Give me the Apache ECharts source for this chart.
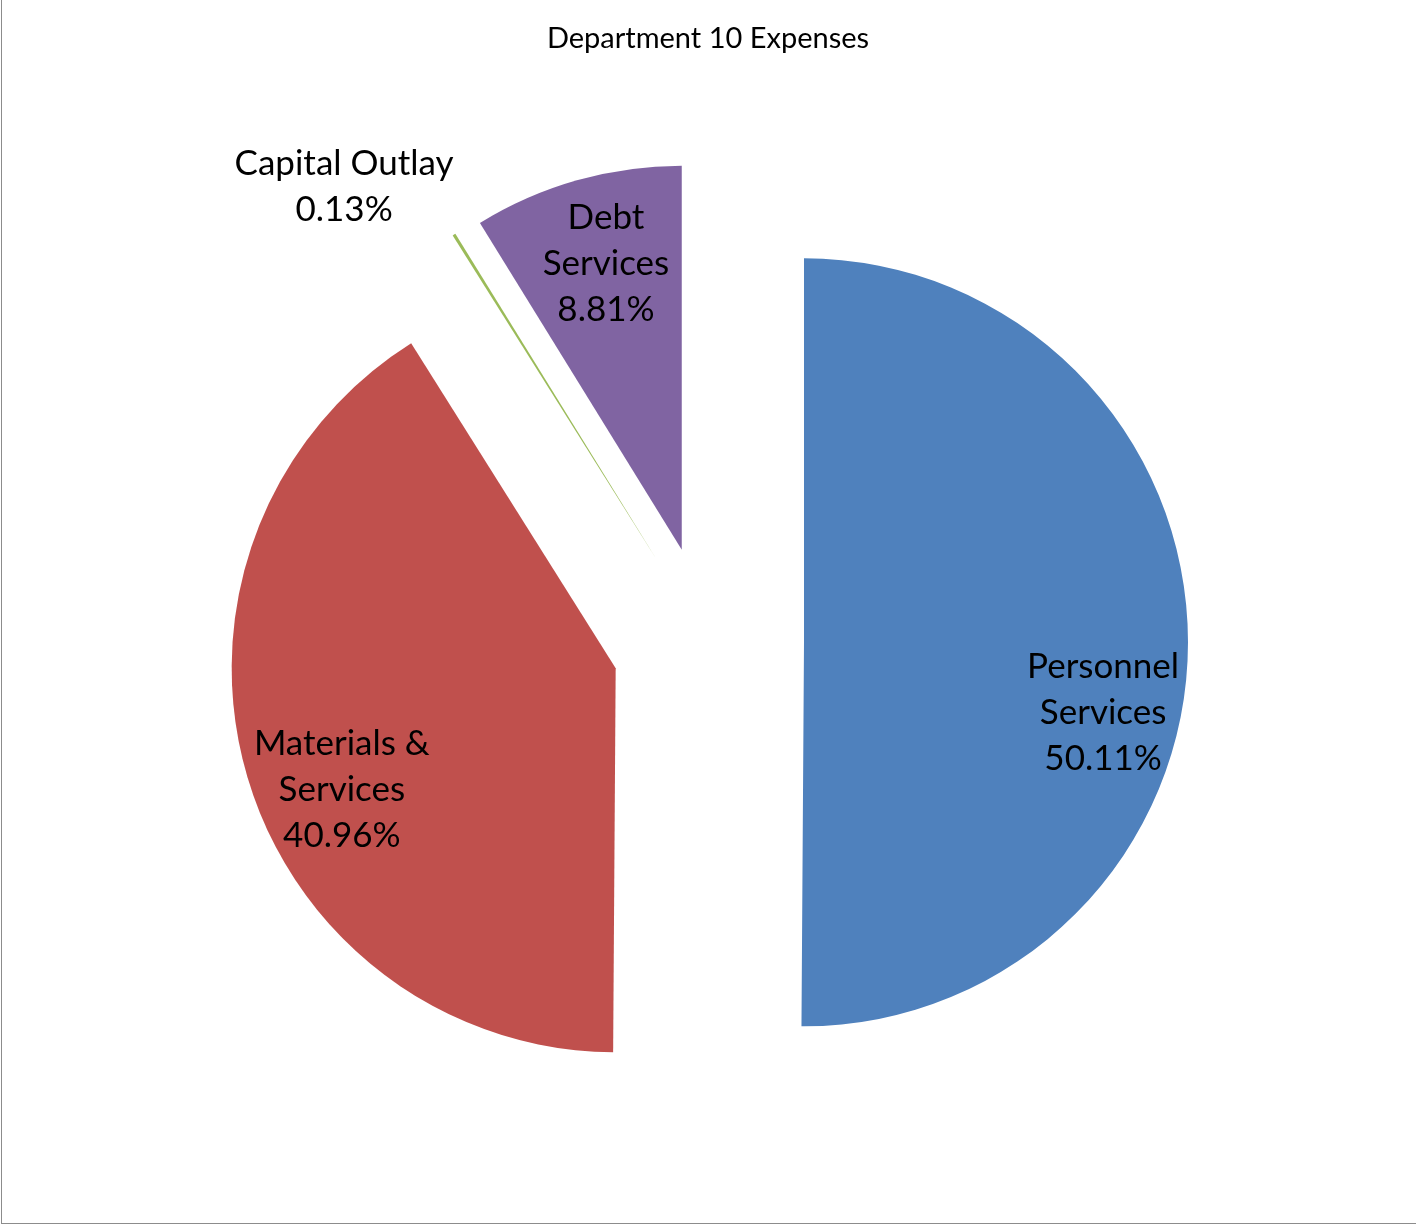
<!DOCTYPE html>
<html>
<head>
<meta charset="utf-8">
<title>Department 10 Expenses</title>
<script src="https://cdn.jsdelivr.net/npm/echarts@6/dist/echarts.min.js"></script>
<style>
  html, body { margin: 0; padding: 0; background: #ffffff; }
  #frame {
    position: absolute; left: 1px; top: -2px;
    width: 1500px; height: 1226px;
    border-left: 1px solid #8c8c8c; border-bottom: 1px solid #8c8c8c;
    box-sizing: border-box;
  }
  #chart { position: absolute; left: 0; top: 0; width: 1416px; height: 1226px; }
</style>
</head>
<body>
<div id="frame"></div>
<div id="chart"></div>
<script>
// Expense categories and their share of the department budget (percent)
const categories = ['Personnel Services', 'Materials & Services', 'Capital Outlay', 'Debt Services'];
const shares = [50.11, 40.96, 0.13, 8.81];
// Category names as they wrap in the slice labels
const labelNames = ['Personnel\nServices', 'Materials &\nServices', 'Capital Outlay', 'Debt\nServices'];
const sliceColors = ['#4F81BD', '#C0504D', '#9BBB59', '#8064A2'];

// Pie geometry
const CENTER = [708, 642];
const RADIUS = 384;
const EXPLODE = 96;
// Label anchors: [angle shift from slice middle (deg), distance as fraction of radius]
const labelAnchor = [[13, 0.80], [-8, 0.78], [-8, 1.27], [1, 0.77]];

const total = shares.reduce((a, b) => a + b, 0);
// clockwise angle from 12 o'clock of each slice's middle
const midAngles = [];
let acc = 0;
shares.forEach(v => {
  const span = v / total * 360;
  midAngles.push(acc + span / 2);
  acc += span;
});

function polar(cx, cy, angDeg, r) {
  const a = angDeg * Math.PI / 180;
  return [cx + Math.sin(a) * r, cy - Math.cos(a) * r];
}

// Label point of slice i, measured from the tip of the exploded slice
function labelPoint(i) {
  const tip = polar(CENTER[0], CENTER[1], midAngles[i], EXPLODE);
  return polar(tip[0], tip[1], midAngles[i] + labelAnchor[i][0], labelAnchor[i][1] * RADIUS);
}

const pieData = categories.map((name, i) => ({ name: name, value: shares[i] }));

const chart = echarts.init(document.getElementById('chart'), null, { renderer: 'canvas' });

chart.setOption({
  animation: false,
  backgroundColor: 'transparent',
  title: {
    text: 'Department 10 Expenses',
    left: 'center',
    top: 19,
    textStyle: { fontFamily: 'Lato', fontSize: 29, fontWeight: 'normal', color: '#000000' }
  },
  series: [
    {
      // exploded slices
      type: 'pie',
      center: CENTER,
      radius: RADIUS,
      startAngle: 90,
      clockwise: true,
      selectedMode: 'multiple',
      selectedOffset: EXPLODE,
      emphasis: { disabled: true },
      select: { itemStyle: { borderWidth: 0 } },
      itemStyle: { borderWidth: 0 },
      label: { show: false },
      labelLine: { show: false },
      data: pieData.map((d, i) => ({
        name: d.name,
        value: d.value,
        selected: true,
        itemStyle: { color: sliceColors[i] }
      }))
    },
    {
      // data labels (slices themselves left unpainted)
      type: 'pie',
      center: CENTER,
      radius: RADIUS,
      startAngle: 90,
      clockwise: true,
      selectedMode: false,
      silent: true,
      avoidLabelOverlap: false,
      emphasis: { disabled: true },
      itemStyle: { color: 'rgba(0,0,0,0)', borderWidth: 0 },
      labelLine: { show: false },
      label: {
        show: true,
        position: 'inside',
        fontFamily: 'Lato',
        fontSize: 35,
        lineHeight: 46,
        color: '#000000',
        align: 'center',
        verticalAlign: 'middle',
        formatter: p => labelNames[p.dataIndex] + '\n' + p.value.toFixed(2) + '%'
      },
      labelLayout: function (params) {
        const pt = labelPoint(params.dataIndex);
        return { x: pt[0], y: pt[1], align: 'center', verticalAlign: 'middle' };
      },
      data: pieData
    }
  ]
});
</script>
</body>
</html>
